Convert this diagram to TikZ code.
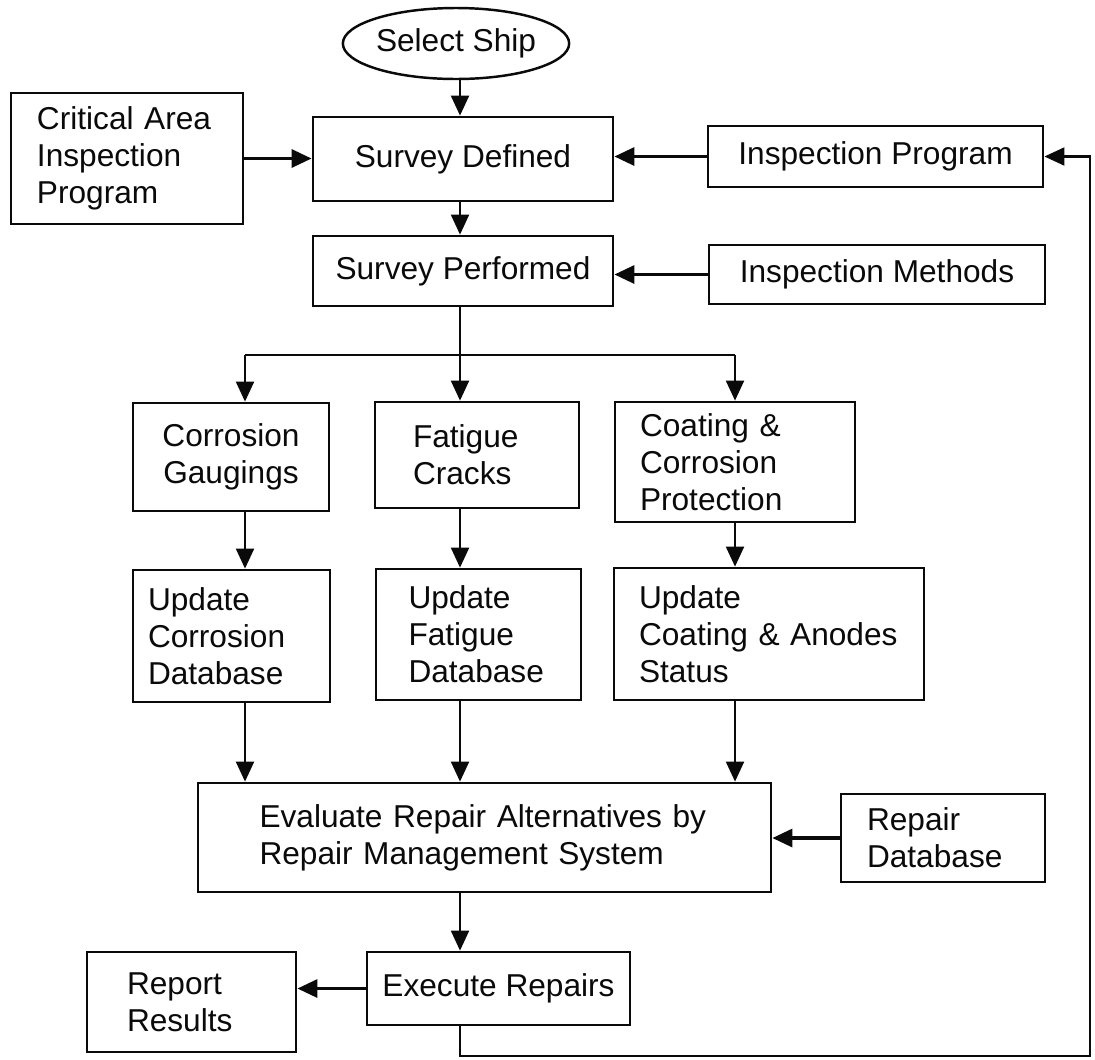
\documentclass[tikz,border=0pt]{standalone}
\usepackage{fontspec}
\setmainfont{Liberation Sans}
\usetikzlibrary{arrows.meta,positioning,calc,shapes.geometric}
\definecolor{InkBlack}{HTML}{0A0A0A}
\tikzset{
  procbox/.style={draw=InkBlack, line width=0.8pt, inner sep=0pt, align=left,
                  font=\fontsize{9}{10.5}\selectfont\color{InkBlack}},
  startnode/.style={ellipse, draw=InkBlack, line width=0.7pt, inner sep=0pt,
                    minimum width=2.16cm, minimum height=0.71cm,
                    font=\fontsize{9}{10.5}\selectfont\color{InkBlack}},
  flowarrow/.style={-{Triangle[length=2mm,width=1.8mm]}, line width=0.6pt, InkBlack},
  flowline/.style={line width=0.6pt, InkBlack},
}

\begin{document}
\begin{tikzpicture}
  \fill[white] (0,0) rectangle (10.95,-10.59);
  \useasboundingbox (0,0) rectangle (10.95,-10.59);

  % guide columns
  \coordinate (spine)  at (4.60,0);
  \coordinate (colA)   at (2.45,0);
  \coordinate (colC)   at (7.35,0);
  \coordinate (branch) at (4.60,-3.55);
  \coordinate (loopSW) at (4.60,-10.56);
  \coordinate (loopSE) at (10.90,-10.56);

  % top: start and survey definition
  \node[startnode] (ship) at (4.56,-0.435) {Select Ship};
  \node[procbox, minimum width=2.32cm, minimum height=1.31cm, text width=1.80cm]
        (crit) at (1.27,-1.585) {Critical Area\\Inspection\\Program};
  \node[procbox, minimum width=3.00cm, minimum height=0.84cm] (defd) at (4.63,-1.59)
        {Survey Defined};
  \node[procbox, minimum width=3.00cm, minimum height=0.70cm] (perf) at (4.63,-2.71)
        {Survey Performed};
  \node[procbox, minimum width=3.35cm, minimum height=0.61cm] (iprog) at (8.755,-1.565)
        {Inspection Program};
  \node[procbox, minimum width=3.36cm, minimum height=0.59cm] (imeth) at (8.77,-2.745)
        {Inspection Methods};

  % survey findings
  \node[procbox, minimum width=1.96cm, minimum height=1.08cm, text width=1.6cm,
        align=center] (corr) at (2.31,-4.57) {Corrosion\\Gaugings};
  \node[procbox, minimum width=2.04cm, minimum height=1.06cm, text width=1.28cm]
        (fat) at (4.77,-4.55) {Fatigue\\Cracks};
  \node[procbox, minimum width=2.40cm, minimum height=1.20cm, text width=1.90cm]
        (coat) at (7.35,-4.62) {Coating \&\\Corrosion\\Protection};

  % database updates
  \node[procbox, minimum width=1.97cm, minimum height=1.32cm, text width=1.67cm]
        (ucorr) at (2.315,-6.36) {Update\\Corrosion\\Database};
  \node[procbox, minimum width=2.05cm, minimum height=1.31cm, text width=1.40cm]
        (ufat) at (4.785,-6.345) {Update\\Fatigue\\Database};
  \node[procbox, minimum width=3.10cm, minimum height=1.32cm, text width=2.60cm]
        (ucoat) at (7.69,-6.34) {Update\\Coating \& Anodes\\Status};

  % repair decision
  \node[procbox, minimum width=5.73cm, minimum height=1.09cm, text width=4.5cm]
        (eval) at (4.845,-8.375)
        {Evaluate Repair Alternatives by\\Repair Management System};
  \node[procbox, minimum width=2.04cm, minimum height=0.88cm, text width=1.52cm]
        (rdb) at (9.43,-8.38) {Repair\\Database};
  \node[procbox, minimum width=2.63cm, minimum height=0.73cm] (exec) at (4.985,-9.885)
        {Execute Repairs};
  \node[procbox, minimum width=2.09cm, minimum height=1.00cm, text width=1.29cm]
        (rep) at (1.915,-10.02) {Report\\Results};

  % main flow
  \draw[flowarrow] (spine |- ship.south) -- (spine |- defd.north);
  \draw[flowarrow, line width=0.9pt] (crit.east) -- (crit.east -| defd.west);
  \draw[flowarrow, line width=0.9pt] (iprog.west) -- (iprog.west -| defd.east);
  \draw[flowarrow] (spine |- defd.south) -- (spine |- perf.north);
  \draw[flowarrow, line width=0.9pt] (imeth.west) -- (imeth.west -| perf.east);

  % branching to the three findings
  \draw[flowline] (spine |- perf.south) -- (branch);
  \draw[flowline] (colA |- branch) -- (colC |- branch);
  \draw[flowarrow] (colA |- branch) -- (colA |- corr.north);
  \draw[flowarrow] (branch) -- (spine |- fat.north);
  \draw[flowarrow] (colC |- branch) -- (colC |- coat.north);

  % columns down to the evaluation
  \draw[flowarrow] (colA |- corr.south) -- (colA |- ucorr.north);
  \draw[flowarrow] (spine |- fat.south) -- (spine |- ufat.north);
  \draw[flowarrow] (colC |- coat.south) -- (colC |- ucoat.north);
  \draw[flowarrow] (colA |- ucorr.south) -- (colA |- eval.north);
  \draw[flowarrow] (spine |- ufat.south) -- (spine |- eval.north);
  \draw[flowarrow] (colC |- ucoat.south) -- (colC |- eval.north);
  \draw[flowarrow, line width=0.9pt] (rdb.west) -- (rdb.west -| eval.east);
  \draw[flowarrow] (spine |- eval.south) -- (spine |- exec.north);
  \draw[flowarrow, line width=0.9pt] (exec.west) -- (exec.west -| rep.east);

  % feedback loop to the inspection program
  \draw[flowarrow] (spine |- exec.south) -- (loopSW) -- (loopSE)
        -- (loopSE |- iprog.east) -- (iprog.east);

\end{tikzpicture}
\end{document}
